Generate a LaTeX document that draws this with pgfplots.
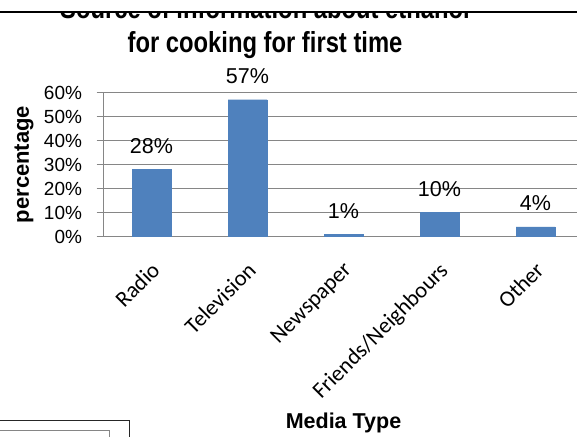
\documentclass[border=0pt]{standalone}
\usepackage{fontspec}
\setmainfont{Liberation Sans}
\newfontfamily\titlefont{Liberation Sans}[FakeStretch=0.82]
\newfontfamily\calibri{Carlito}
\usepackage{pgfplots}
\pgfplotsset{compat=1.18}
\definecolor{barblue}{HTML}{4F81BD}
\definecolor{gridgray}{HTML}{868686}
\begin{document}
\begin{tikzpicture}[x=1pt,y=1pt]
\clip (0,0) rectangle (577,436);
\fill[white] (0,0) rectangle (577,436);
\begin{axis}[
  scale only axis,
  width=480pt, height=144pt,
  anchor=south west, at={(103.5pt,199.5pt)},
  xmin=-0.5, xmax=4.5, ymin=0, ymax=60,
  ybar, bar width=39pt,
  /pgf/number format/assume math mode=true,
  axis x line*=bottom, axis y line*=left,
  axis line style={gridgray, line width=1.5pt},
  xtick={0,1,2,3,4},
  xticklabels={Radio,Television,Newspaper,Friends/Neighbours,Other},
  x tick style={draw=none},
  xticklabel style={rotate=45, anchor=north east, font=\calibri\fontsize{22.5}{27}\selectfont, inner sep=2pt, xshift=-11pt, yshift=-9pt},
  ytick={0,10,20,30,40,50,60},
  yticklabels={0\%,10\%,20\%,30\%,40\%,50\%,60\%},
  yticklabel style={font=\fontsize{19}{23}\selectfont, xshift=-11pt},
  y tick style={gridgray, line width=1pt},
  tick align=outside, major tick length=7pt,
  ymajorgrids, grid style={gridgray, line width=1pt},
  ylabel={percentage},
  ylabel style={font=\bfseries\fontsize{22}{26}\selectfont, at={(axis description cs:-0.1656,0.5)}, anchor=center},
  xlabel={Media Type},
  xlabel style={font=\bfseries\fontsize{21.5}{26}\selectfont, at={(axis description cs:0.5,-1.33)}, anchor=base},
  nodes near coords={\pgfmathprintnumber{\pgfplotspointmeta}\%},
  every node near coord/.append style={font=\fontsize{21.5}{25}\selectfont, anchor=base, yshift=16pt, text=black},
]
\addplot[fill=barblue, draw=barblue] coordinates {(0,28) (1,57) (2,1) (3,10) (4,4)};
\end{axis}
\begin{scope}
\clip (0,0) rectangle (577,424.3);
\node[anchor=base, font=\titlefont\bfseries\fontsize{29}{33}\selectfont] at (265,417) {Source of information about ethanol};
\end{scope}
\draw[black, line width=2pt] (0,424.3) -- (577,424.3);
\node[anchor=base, font=\titlefont\bfseries\fontsize{29}{33}\selectfont] at (265,383.7) {for cooking for first time};
\draw[black!85, line width=1pt] (-5,-5) rectangle (129,16);
\draw[gridgray, line width=1pt] (-5,-5) rectangle (109,6);
\end{tikzpicture}
\end{document}
